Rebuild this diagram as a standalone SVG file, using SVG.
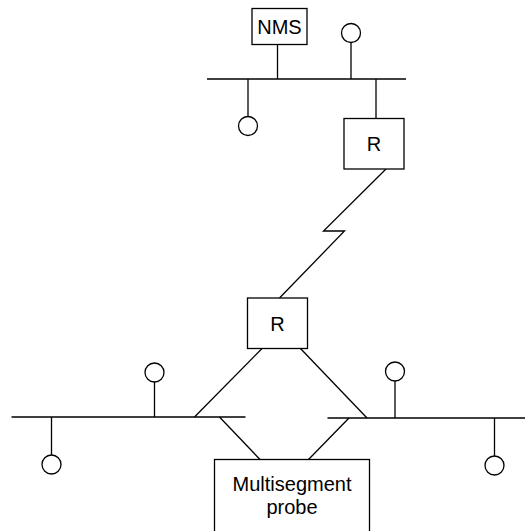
<svg xmlns="http://www.w3.org/2000/svg" width="525" height="531" viewBox="0 0 525 531">
<style>
.ln{stroke:#000;stroke-width:1.3;fill:none}
.bx{stroke:#000;stroke-width:1.3;fill:#fff}
.st{stroke:#000;stroke-width:1.3;fill:#fff}
.t{font-family:"Liberation Sans",Arial,sans-serif;font-size:20px;fill:#000;text-anchor:middle}
</style>
<rect width="525" height="531" fill="#fff"/>
<g id="connectors">
<!-- top segment -->
<line class="ln" x1="207" y1="79" x2="406" y2="79"/>
<line class="ln" x1="277.5" y1="44" x2="277.5" y2="79"/>
<line class="ln" x1="351" y1="43" x2="351" y2="79"/>
<line class="ln" x1="248" y1="79" x2="248" y2="116"/>
<line class="ln" x1="376" y1="79" x2="376" y2="118"/>
<!-- WAN link -->
<polyline class="ln" points="386,169 323.5,231 344.5,231 279.5,298"/>
<!-- lower links -->
<line class="ln" x1="262.5" y1="348" x2="194.5" y2="417"/>
<line class="ln" x1="300" y1="348" x2="367" y2="418"/>
<line class="ln" x1="219.5" y1="417" x2="260" y2="459.5"/>
<line class="ln" x1="349" y1="418" x2="308.5" y2="459.5"/>
<!-- left segment -->
<line class="ln" x1="11.5" y1="417" x2="245.5" y2="417"/>
<line class="ln" x1="154.5" y1="382" x2="154.5" y2="417"/>
<line class="ln" x1="51.5" y1="417" x2="51.5" y2="455"/>
<!-- right segment -->
<line class="ln" x1="327.5" y1="418" x2="525" y2="418"/>
<line class="ln" x1="395" y1="381" x2="395" y2="418"/>
<line class="ln" x1="494.5" y1="418" x2="494.5" y2="456"/>
</g>
<g id="nms">
<rect class="bx" x="252" y="8.5" width="55" height="36"/>
<text class="t" x="279.5" y="34">NMS</text>
</g>
<g id="station-top-1"><circle class="st" cx="351" cy="33" r="9.5"/></g>
<g id="station-top-2"><circle class="st" cx="248" cy="126" r="9.5"/></g>
<g id="router-top">
<rect class="bx" x="344" y="118.5" width="60" height="50.5"/>
<text class="t" x="374" y="151">R</text>
</g>
<g id="router-bottom">
<rect class="bx" x="247.5" y="298" width="60" height="50.5"/>
<text class="t" x="277.5" y="331">R</text>
</g>
<g id="station-left-1"><circle class="st" cx="154.5" cy="372.5" r="9.5"/></g>
<g id="station-left-2"><circle class="st" cx="51.5" cy="464.5" r="9.5"/></g>
<g id="station-right-1"><circle class="st" cx="395" cy="371.5" r="9.5"/></g>
<g id="station-right-2"><circle class="st" cx="494.5" cy="465.5" r="9.5"/></g>
<g id="probe">
<rect class="bx" x="214.5" y="459.5" width="155" height="80"/>
<text class="t" x="292" y="490.5">Multisegment</text>
<text class="t" x="292" y="514">probe</text>
</g>
</svg>
